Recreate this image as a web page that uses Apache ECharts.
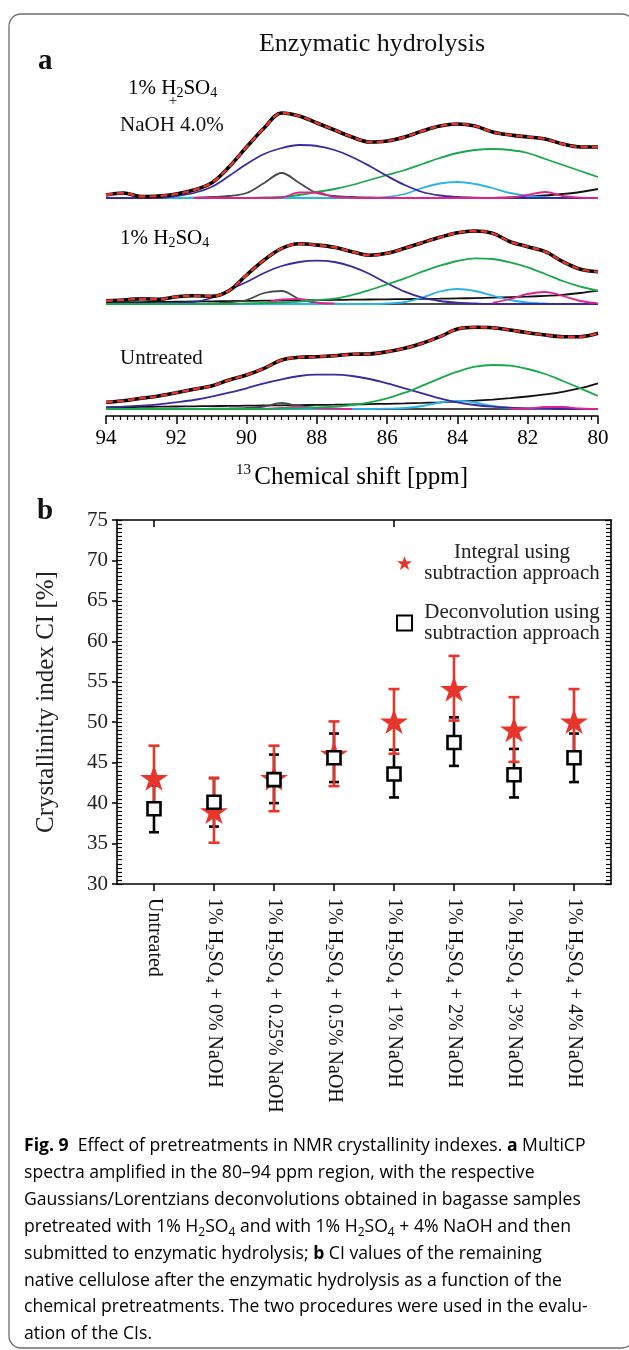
<!DOCTYPE html>
<html><head><meta charset="utf-8">
<script src="https://cdn.jsdelivr.net/npm/echarts@6/dist/echarts.min.js"></script>
<style>html,body{margin:0;padding:0;background:#fff}#c{width:629px;height:1350px}</style>
</head><body><div id="c"></div>
<script>
// ---------- Panel a: spectra (ppm grid, heights) ----------
const ppm = [94,93.5,93,92.5,92,91.5,91,90.5,90,89.5,89,88.5,88,87.5,87,86.5,86,85.5,85,84.5,84,83.5,83,82.5,82,81.5,81,80.5,80];
const xTicks = [94,92,90,88,86,84,82,80];

// 1% H2SO4 + NaOH 4.0%
const s1Exp  = [3,5,1.5,2,4,8,15,31,51,70,85,82,75,68,61,56,57,61,67,72,74,72,66,63,61,59,54,51,51];
const s1Blue = [0,0,0,0,2,5,11,22,34,44,50,53,52,48,41,32,22,13,6,2.5,1,0.3,0,0,0,0,0,0,0];
const s1Green= [0,0,0,0,0,0,0,0,0,0.5,1,3,6,9,13,18,23,28,34,40,45,48,49,48,45,39,33,27,21];
const s1Grey = [0,0,0,0,0,0.3,1,2,5,15,25,15,5,2,1,0.5,0,0,0,0,0,0,0,0,0,0,0,0,0];
const s1Cyan = [0,0,0,0,0,0,0,0,0,0,0,0,0,0,0,0,1,4,10,14.5,16,14,10,5,2,0.5,0,0,0];
const s1Mag  = [null,null,null,null,null,0,0,0,0,0,0.5,5.5,5.5,1,0.2,0,0,0,0,0,0,0,0,0.5,3,6,2,0.3,0];
const s1Base = [0,0,0,0,0,0,0,0,0,0,0,0,0,0,0,0,0,0,0,0,0,0,0.2,0.5,1.5,2.5,4,6,9];

// 1% H2SO4
const s2Exp  = [3.3,4,5.3,4.7,7.3,8.3,7.7,13.3,29,44,55.7,60.3,59,56.7,52.3,48.7,50.7,55.7,61.3,66.7,71.3,73,70.7,62.3,57.3,52.3,42.3,34.7,32.3];
const s2Blue = [0.5,0.5,0.5,0.7,1,2,6,14,22,31,38,42,43.3,42,37.3,30,20.7,12.3,6.3,3,1.3,0.5,0,0,0,0,0,0,0];
const s2Green= [0,0,0,0,0,0,0,0,0.5,1,1.5,2.3,4,5.3,9,14,19.7,25.7,32.3,38.3,43,45.7,45,41.7,36.7,30,23,17.3,13.3];
const s2Grey = [0,0,0,0,0,0.2,0.5,1.5,4,11,13,5,1,0.3,0,0,0,0,0,0,0,0,0,0,0,0,0,0,0];
const s2Cyan = [0,0,0,0,0,0,0,0,0,0,0,0,0,0,0,0,0.5,2,6.5,12.5,15,13,8.5,4,1.5,0.5,0,0,0];
const s2Mag  = [null,null,null,null,null,null,null,null,null,0.5,4.5,5,1.5,0.3,null,null,null,null,null,null,null,null,1,5,10,12,8,3,0.7];
const s2Base = [1.5,1.7,1.9,2.1,2.3,2.5,2.7,2.9,3.1,3.3,3.5,3.7,3.9,4.1,4.3,4.5,4.7,4.9,5.1,5.3,5.6,5.9,6.3,6.8,7.4,8.2,9.2,11,13.3];

// Untreated
const s3Exp  = [6.7,8.3,10.7,13,16.3,19.7,23,29,34,40.7,49,51.7,52.3,53.3,54.7,55,57.3,60.7,65.7,72.3,80,81.7,81.3,79,76.3,74,72.3,72.3,75.7];
const s3Blue = [1.7,2.3,3.3,4.7,6.7,9,12.3,16.3,20.7,25.7,29.7,33,34.3,34.3,33,30,25.7,20.7,15.7,10.7,6.7,4,2.3,1.3,0.7,0.3,0,0,0];
const s3Green= [0,0,0,0,0,0,0,0,0,0,0.5,1,1.7,2.3,4,6.7,10.7,16.3,23.3,30.7,37.3,42.3,44,43.3,40,35,28,20.7,13];
const s3Grey = [0,0,0,0,0,0,0.3,0.5,1,2.5,6,2.5,1,0.3,0,0,0,0,0,0,0,0,0,0,0,0,0,0,0];
const s3Cyan = [0,0,0,0,0,0,0,0,0,0,0,0,0,0,0,0,0.3,1,3,6.5,8,6.5,3,1,0.3,0,0,0,0];
const s3Mag  = [null,null,null,null,null,null,null,null,null,0,1,2.5,1,0.3,0,null,null,null,null,null,null,null,null,0.2,0.5,2,2,0.5,0];
const s3Base = [1.7,1.9,2.1,2.3,2.5,2.7,2.9,3.1,3.3,3.5,3.7,3.9,4.1,4.3,4.6,4.9,5.2,5.6,6.1,6.7,7.4,8.3,9.4,10.8,12.5,14.6,17.2,20.8,25.7];

// ---------- Panel b: crystallinity index ----------
const categories = ['Untreated','1% H2SO4 + 0% NaOH','1% H2SO4 + 0.25% NaOH','1% H2SO4 + 0.5% NaOH','1% H2SO4 + 1% NaOH','1% H2SO4 + 2% NaOH','1% H2SO4 + 3% NaOH','1% H2SO4 + 4% NaOH'];
const naoh = [null,'0%','0.25%','0.5%','1%','2%','3%','4%'];
const integral     = [43.1, 39.0, 43.1, 46.1, 50.1, 54.1, 49.1, 50.1];
const integralLow  = [39.0, 35.1, 39.0, 42.1, 46.1, 50.2, 45.1, 46.1];
const integralHigh = [47.1, 43.1, 47.1, 50.1, 54.1, 58.2, 53.1, 54.1];
const deconv       = [39.3, 40.1, 42.9, 45.6, 43.6, 47.5, 43.5, 45.6];
const deconvLow    = [36.4, 37.1, 40.0, 42.6, 40.7, 44.6, 40.7, 42.6];
const deconvHigh   = [42.2, 43.1, 46.0, 48.6, 46.6, 50.6, 46.7, 48.6];
const yTicks = [30,35,40,45,50,55,60,65,70,75];

const SERIF = 'Liberation Serif';
const SANS = 'Open Sans';
const C = {blue:'#3a2a9c', green:'#19a84b', grey:'#4a4a4a', cyan:'#29b3e6', mag:'#e0228c', black:'#111', red:'#e8352b'};

function line(g, arr, color, width, extra) {
  return Object.assign({
    type:'line', xAxisIndex:g, yAxisIndex:g, data: ppm.map((x,i)=>[x, arr[i]]),
    showSymbol:false, symbol:'none', smooth:0.35, silent:true,
    lineStyle:{color:color, width:width}
  }, extra || {});
}
function spectrum(g, exp, comps) {
  const out = comps.map(c => line(g, c[0], c[1], 1.8));
  out.push(line(g, exp, '#000', 3.6));
  out.push(line(g, exp, C.red, 2.4, {lineStyle:{color:C.red, width:2.4, type:[7,4]}}));
  return out;
}

const series = [].concat(
  spectrum(0, s1Exp, [[s1Base,C.black],[s1Grey,C.grey],[s1Green,C.green],[s1Cyan,C.cyan],[s1Blue,C.blue],[s1Mag,C.mag]]),
  spectrum(1, s2Exp, [[s2Base,C.black],[s2Grey,C.grey],[s2Cyan,C.cyan],[s2Blue,C.blue],[s2Mag,C.mag],[s2Green,C.green]]),
  spectrum(2, s3Exp, [[s3Base,C.black],[s3Grey,C.grey],[s3Cyan,C.cyan],[s3Blue,C.blue],[s3Mag,C.mag],[s3Green,C.green]])
);

function errBars(low, high, color, w, z) {
  return {
    type:'custom', xAxisIndex:5, yAxisIndex:6, z:z, silent:true,
    data: categories.map((c,i)=>[i, low[i], high[i]]),
    encode:{x:0, y:[1,2]},
    renderItem: function(params, api) {
      const x = api.value(0);
      const lo = api.coord([x, api.value(1)]);
      const hi = api.coord([x, api.value(2)]);
      const st = {stroke:color, lineWidth:2.6};
      return {type:'group', children:[
        {type:'line', shape:{x1:lo[0], y1:lo[1], x2:hi[0], y2:hi[1]}, style:st},
        {type:'line', shape:{x1:hi[0]-w, y1:hi[1], x2:hi[0]+w, y2:hi[1]}, style:st},
        {type:'line', shape:{x1:lo[0]-w, y1:lo[1], x2:lo[0]+w, y2:lo[1]}, style:st}
      ]};
    }
  };
}
const starPath = 'path://M50,0 L61.8,35.1 L98.9,35.1 L68.9,56.8 L80.3,91.9 L50,70.2 L19.7,91.9 L31.1,56.8 L1.1,35.1 L38.2,35.1 Z';
const NAME1 = 'Integral using subtraction approach';
const NAME2 = 'Deconvolution using subtraction approach';

series.push(errBars(deconvLow, deconvHigh, '#000', 5, 10));
series.push(errBars(integralLow, integralHigh, C.red, 5.5, 11));
series.push({
  name:NAME1, type:'scatter', xAxisIndex:5, yAxisIndex:6, z:12, silent:true,
  symbol:starPath, symbolSize:[28,27], symbolKeepAspect:true,
  itemStyle:{color:C.red, opacity:1},
  data: categories.map((c,i)=>[i, integral[i]])
});
series.push({
  name:NAME2, type:'scatter', xAxisIndex:5, yAxisIndex:6, z:13, silent:true,
  symbol:'rect', symbolSize:13,
  itemStyle:{color:'#fff', borderColor:'#000', borderWidth:2.6, opacity:1},
  data: categories.map((c,i)=>[i, deconv[i]])
});

const specX = (g, show) => ({
  gridIndex:g, type:'value', min:80, max:94, interval:2, inverse:true, show:show,
  axisLine:{show:true, onZero:false, lineStyle:{color:'#000', width:1.6}},
  axisTick:{show:true, length:8, lineStyle:{color:'#000', width:1.5}},
  minorTick:{show:true, splitNumber:10, length:4, lineStyle:{color:'#000', width:1.2}},
  splitLine:{show:false},
  axisLabel:{fontFamily:SERIF, fontSize:21, color:'#000', margin:12},
  name: show ? '{sup|13} {m|Chemical shift [ppm]}' : '',
  nameLocation:'middle', nameGap:47,
  nameTextStyle:{rich:{
    sup:{fontFamily:SERIF, fontSize:15, lineHeight:12, verticalAlign:'top', color:'#000'},
    m:{fontFamily:SERIF, fontSize:25, lineHeight:28, color:'#000'}
  }}
});

const catRich = {
  t:{fontFamily:SERIF, fontSize:20, lineHeight:22, color:'#111'},
  s:{fontFamily:SERIF, fontSize:13, lineHeight:9, verticalAlign:'bottom', color:'#111'}
};

const option = {
  animation:false,
  backgroundColor:'#fff',
  grid:[
    {left:106, right:31, top:98, height:100},
    {left:106, right:31, top:204, height:100},
    {left:106, right:31, top:316, height:100},
    {left:117, right:18, top:520, bottom:466},
    {left:124, right:25, top:520, bottom:466}
  ],
  xAxis:[
    specX(0,false), specX(1,false), specX(2,true),
    {gridIndex:3, type:'value', min:0, max:1, position:'bottom', axisLine:{show:true, onZero:false, lineStyle:{color:'#000', width:1.6}}, axisTick:{show:false}, axisLabel:{show:false}, splitLine:{show:false}},
    {gridIndex:3, type:'value', min:0, max:1, position:'top', axisLine:{show:true, onZero:false, lineStyle:{color:'#000', width:1.6}}, axisTick:{show:false}, axisLabel:{show:false}, splitLine:{show:false}},
    {gridIndex:4, type:'category', data:categories, position:'bottom', boundaryGap:true,
      axisLine:{show:false}, axisTick:{show:true, alignWithLabel:true, length:7, lineStyle:{color:'#000', width:1.5}},
      axisLabel:{rotate:-90, margin:14, interval:0, rich:catRich,
        formatter:function(v, i){ return naoh[i] === null ? '{t|' + v + '}' : '{t|1% H}{s|2}{t|SO}{s|4}{t| + ' + naoh[i] + ' NaOH}'; }},
      splitLine:{show:false}},
    {gridIndex:4, type:'category', data:categories, position:'top', boundaryGap:true,
      axisLine:{show:false}, axisTick:{show:true, inside:true, alignWithLabel:true, length:7, lineStyle:{color:'#000', width:1.5}},
      axisLabel:{show:false}, splitLine:{show:false}}
  ],
  yAxis:[
    {gridIndex:0, type:'value', min:0, max:100, show:false},
    {gridIndex:1, type:'value', min:0, max:100, show:false},
    {gridIndex:2, type:'value', min:-7, max:93, show:false},
    {gridIndex:3, type:'value', min:yTicks[0], max:yTicks[yTicks.length-1], interval:5, position:'left',
      axisLine:{show:true, lineStyle:{color:'#000', width:1.6}},
      axisTick:{show:true, length:5, lineStyle:{color:'#000', width:1.5}},
      axisLabel:{fontFamily:SERIF, fontSize:21, color:'#222', margin:9},
      splitLine:{show:false},
      name:'Crystallinity index CI [%]', nameLocation:'middle', nameGap:58, nameRotate:90,
      nameTextStyle:{fontFamily:SERIF, fontSize:25, color:'#222'}},
    {gridIndex:3, type:'value', min:30, max:75, interval:5, position:'left',
      axisLine:{show:false}, axisLabel:{show:false}, splitLine:{show:false},
      axisTick:{show:true, inside:true, length:5, lineStyle:{color:'#000', width:1.2}},
      minorTick:{show:true, splitNumber:10, length:5, lineStyle:{color:'#000', width:1.2}}},
    {gridIndex:3, type:'value', min:30, max:75, interval:5, position:'right',
      axisLine:{show:true, lineStyle:{color:'#000', width:1.6}}, axisLabel:{show:false}, splitLine:{show:false},
      axisTick:{show:true, inside:true, length:6, lineStyle:{color:'#000', width:1.3}},
      minorTick:{show:true, splitNumber:10, length:5, lineStyle:{color:'#000', width:1.2}}},
    {gridIndex:4, type:'value', min:30, max:75, show:false}
  ],
  legend:{
    data:[NAME1, NAME2], orient:'vertical', left:391, top:537, itemWidth:15, itemHeight:15, itemGap:18,
    selectedMode:false,
    formatter:function(n){ return n === NAME1 ? '{c|Integral using}\n{c|subtraction approach}' : '{c|Deconvolution using}\n{c|subtraction approach}'; },
    textStyle:{rich:{c:{width:190, align:'center', fontFamily:SERIF, fontSize:21, lineHeight:21, color:'#222'}}}
  },
  series: series,
  graphic:[
    {type:'rect', shape:{x:9, y:14, width:625, height:1334, r:12}, style:{fill:'none', stroke:'#6d6d6d', lineWidth:1.3}, silent:true, z:-1},
    {type:'text', x:38, y:62, style:{text:'a', font:'bold 29px "Liberation Serif"', fill:'#111', align:'left', verticalAlign:'middle'}},
    {type:'text', x:37, y:512, style:{text:'b', font:'bold 29px "Liberation Serif"', fill:'#111', align:'left', verticalAlign:'middle'}},
    {type:'text', x:372, y:44, style:{text:'Enzymatic hydrolysis', font:'26px "Liberation Serif"', fill:'#111', align:'center', verticalAlign:'middle'}},
    {type:'text', x:128, y:88, style:{text:'{t|1% H}{s|2}{t|SO}{s|4}', align:'left', verticalAlign:'middle',
      rich:{t:{fontFamily:SERIF, fontSize:21, lineHeight:24, color:'#111'}, s:{fontFamily:SERIF, fontSize:14, lineHeight:9, verticalAlign:'bottom', color:'#111'}}}},
    {type:'text', x:173, y:101, style:{text:'+', font:'15px "Liberation Serif"', fill:'#111', align:'center', verticalAlign:'middle'}},
    {type:'text', x:120, y:125, style:{text:'NaOH 4.0%', font:'21px "Liberation Serif"', fill:'#111', align:'left', verticalAlign:'middle'}},
    {type:'text', x:120, y:238, style:{text:'{t|1% H}{s|2}{t|SO}{s|4}', align:'left', verticalAlign:'middle',
      rich:{t:{fontFamily:SERIF, fontSize:21, lineHeight:24, color:'#111'}, s:{fontFamily:SERIF, fontSize:14, lineHeight:9, verticalAlign:'bottom', color:'#111'}}}},
    {type:'text', x:120, y:358, style:{text:'Untreated', font:'21px "Liberation Serif"', fill:'#111', align:'left', verticalAlign:'middle'}}
  ].concat([
    '{b|Fig. 9}{n|  Effect of pretreatments in NMR crystallinity indexes. }{b|a}{n| MultiCP}',
    '{n|spectra amplified in the 80–94 ppm region, with the respective}',
    '{n|Gaussians/Lorentzians deconvolutions obtained in bagasse samples}',
    '{n|pretreated with 1% H}{s|2}{n|SO}{s|4}{n| and with 1% H}{s|2}{n|SO}{s|4}{n| + 4% NaOH and then}',
    '{n|submitted to enzymatic hydrolysis; }{b|b}{n| CI values of the remaining}',
    '{n|native cellulose after the enzymatic hydrolysis as a function of the}',
    '{n|chemical pretreatments. The two procedures were used in the evalu-}',
    '{n|ation of the CIs.}'
  ].map((t, i) => ({type:'text', x:24, y:1146 + i*26.9, style:{text:t, align:'left', verticalAlign:'middle',
    rich:{
      n:{fontFamily:SANS, fontSize:17.6, lineHeight:24, color:'#231f20'},
      b:{fontFamily:SANS, fontSize:17.6, lineHeight:24, fontWeight:'bold', color:'#231f20'},
      s:{fontFamily:SANS, fontSize:12, lineHeight:8, verticalAlign:'bottom', color:'#231f20'}
    }}})))
};

const chart = echarts.init(document.getElementById('c'));
chart.setOption(option);
</script>
</body></html>
